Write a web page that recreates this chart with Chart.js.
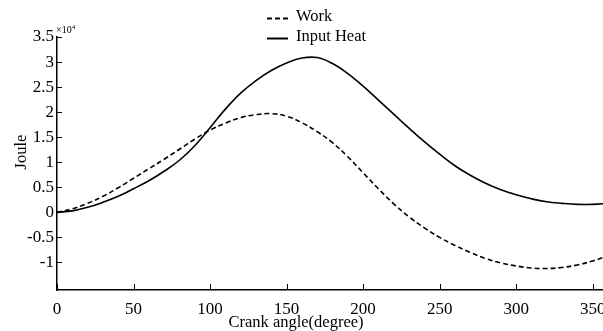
<!DOCTYPE html>
<html>
<head>
<meta charset="utf-8">
<script src="https://cdn.jsdelivr.net/npm/chart.js@4/dist/chart.umd.min.js"></script>
<style>
html,body{margin:0;padding:0;background:#fff;overflow:hidden;width:603px;height:331px;}
canvas{display:block;}
</style>
</head>
<body>
<canvas id="c" width="615" height="331" style="width:615px;height:331px"></canvas>
<script>
// Crank angle (degree)
const angles = [0,10,20,30,40,50,60,70,80,90,100,110,120,130,140,150,160,170,180,190,200,210,220,230,240,250,260,270,280,290,300,310,320,330,340,350,360];
// Values in units of 10^4 Joule
const workJ = [0,0.07,0.18,0.32,0.49,0.68,0.87,1.06,1.26,1.46,1.64,1.78,1.89,1.95,1.97,1.92,1.79,1.61,1.39,1.11,0.79,0.47,0.17,-0.09,-0.31,-0.5,-0.66,-0.8,-0.92,-1.01,-1.07,-1.11,-1.12,-1.1,-1.05,-0.97,-0.87];
const heatJ = [0,0.03,0.1,0.2,0.32,0.47,0.63,0.82,1.04,1.33,1.69,2.06,2.38,2.63,2.83,2.98,3.08,3.09,2.97,2.77,2.52,2.24,1.96,1.68,1.41,1.16,0.93,0.74,0.58,0.45,0.35,0.27,0.21,0.18,0.16,0.16,0.18];
const xTicks = [0,50,100,150,200,250,300,350];
const yTicks = [-1,-0.5,0,0.5,1,1.5,2,2.5,3,3.5];
const yTickLabels = ['-1','-0.5','0','0.5','1','1.5','2','2.5','3','3.5'];
const seriesNames = ['Work','Input Heat'];
const xTitle = 'Crank angle(degree)';
const yTitle = 'Joule';
const expLabel = '\u00d710';
const expPow = '4';

const FONT = '"Liberation Serif", "Times New Roman", serif';

const overlay = {
  id: 'overlay',
  afterDraw(chart) {
    const ctx = chart.ctx;
    const xs = chart.scales.x, ys = chart.scales.y;
    const ca = chart.chartArea;
    ctx.save();
    ctx.strokeStyle = '#000';
    ctx.fillStyle = '#000';
    ctx.lineWidth = 1;
    // inward ticks
    xTicks.forEach(v => {
      const px = Math.round(xs.getPixelForValue(v)) + 0.5;
      ctx.beginPath(); ctx.moveTo(px, ca.bottom); ctx.lineTo(px, ca.bottom - 6); ctx.stroke();
    });
    yTicks.forEach(v => {
      const py = Math.round(ys.getPixelForValue(v)) + 0.5;
      ctx.beginPath(); ctx.moveTo(ca.left, py); ctx.lineTo(ca.left + 5, py); ctx.stroke();
    });
    // tick labels
    ctx.font = '17px ' + FONT;
    ctx.textAlign = 'center'; ctx.textBaseline = 'middle';
    xTicks.forEach(v => {
      ctx.fillText(String(v), xs.getPixelForValue(v), ca.bottom + 20);
    });
    ctx.textAlign = 'right';
    yTicks.forEach((v, i) => {
      ctx.fillText(yTickLabels[i], ca.left - 3, ys.getPixelForValue(v));
    });
    // exponent
    ctx.textAlign = 'left'; ctx.textBaseline = 'alphabetic';
    ctx.font = '10px ' + FONT;
    ctx.fillText(expLabel, ca.left - 1, ca.top - 4);
    const w = ctx.measureText(expLabel).width;
    ctx.font = '7px ' + FONT;
    ctx.fillText(expPow, ca.left - 1 + w, ca.top - 8);
    // axis titles
    ctx.font = '16.5px ' + FONT;
    ctx.textAlign = 'center'; ctx.textBaseline = 'middle';
    ctx.fillText(xTitle, 296, 323);
    ctx.save();
    ctx.translate(22, 152);
    ctx.rotate(-Math.PI / 2);
    ctx.fillText(yTitle, 0, 0);
    ctx.restore();
    // legend
    const rows = [[267, 18], [267, 38]];
    chart.data.datasets.forEach((ds, i) => {
      const [lx, ly] = rows[i];
      ctx.beginPath();
      ctx.lineWidth = 2;
      ctx.setLineDash(ds.borderDash || []);
      ctx.moveTo(lx, ly + 0.5); ctx.lineTo(lx + 21, ly + 0.5); ctx.stroke();
      ctx.setLineDash([]);
      ctx.textAlign = 'left'; ctx.textBaseline = 'middle';
      ctx.fillText(ds.label, lx + 29, ly - 1);
    });
    ctx.restore();
  }
};

new Chart(document.getElementById('c'), {
  type: 'line',
  data: {
    datasets: [
      {
        label: seriesNames[0],
        data: angles.map((a, i) => ({x: a, y: workJ[i]})),
        borderColor: '#000', borderWidth: 1.6, borderDash: [5, 3],
        pointRadius: 0, tension: 0.4, fill: false
      },
      {
        label: seriesNames[1],
        data: angles.map((a, i) => ({x: a, y: heatJ[i]})),
        borderColor: '#000', borderWidth: 1.6,
        pointRadius: 0, tension: 0.4, fill: false
      }
    ]
  },
  options: {
    responsive: false,
    animation: false,
    devicePixelRatio: 1,
    layout: { padding: { left: 57, top: 37, right: 615 - 608, bottom: 41 } },
    plugins: { legend: { display: false }, tooltip: { enabled: false } },
    scales: {
      x: {
        type: 'linear', min: 0, max: 360,
        grid: { display: false, drawTicks: false },
        border: { display: true, color: '#000', width: 1.5 },
        ticks: { display: false, stepSize: 50 },
        afterBuildTicks: s => { s.ticks = xTicks.map(v => ({value: v})); }
      },
      y: {
        type: 'linear', min: -1.55, max: 3.5,
        grid: { display: false, drawTicks: false },
        border: { display: true, color: '#000', width: 1.5 },
        ticks: { display: false },
        afterBuildTicks: s => { s.ticks = yTicks.map(v => ({value: v})); }
      }
    }
  },
  plugins: [overlay]
});
</script>
</body>
</html>
